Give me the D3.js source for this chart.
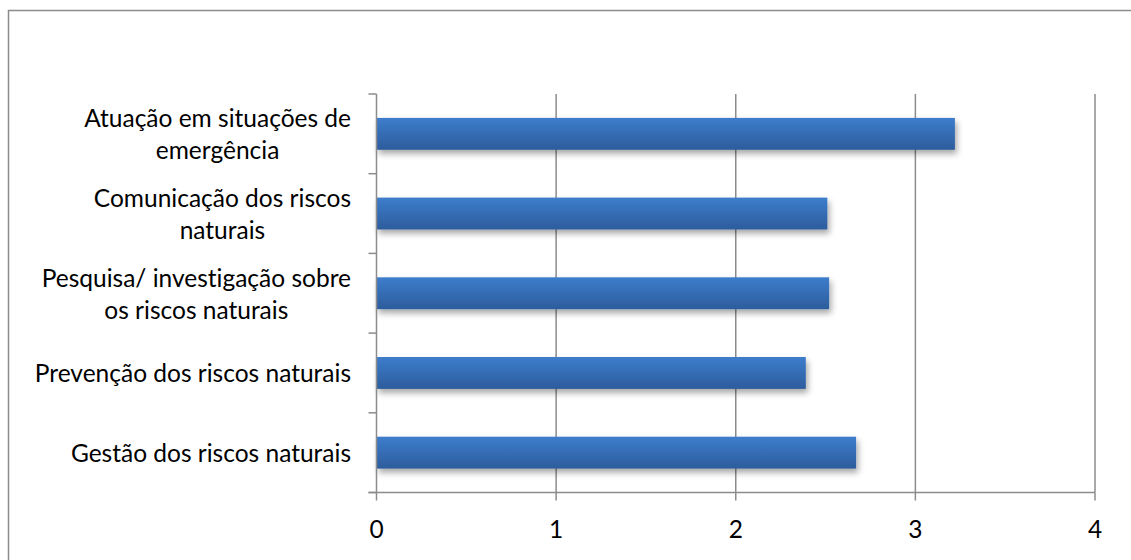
<!DOCTYPE html>
<html>
<head>
<meta charset="utf-8">
<script src="https://cdn.jsdelivr.net/npm/d3@7"></script>
<style>
  html, body { margin: 0; padding: 0; background: #fff; }
  svg { display: block; }
  text { font-family: Lato, "Open Sans", sans-serif; fill: #000; font-variant-ligatures: none; }
</style>
</head>
<body>
<svg id="chart" width="1131" height="560"></svg>
<script>
// Category labels (top to bottom), each split into its printed lines
const categories = [
  ["Atuação em situações de", "emergência"],
  ["Comunicação dos riscos", "naturais"],
  ["Pesquisa/ investigação sobre", "os riscos naturais"],
  ["Prevenção dos riscos naturais"],
  ["Gestão dos riscos naturais"]
];
const values = [3.22, 2.51, 2.52, 2.39, 2.67];
const xTicks = [0, 1, 2, 3, 4];

const svg = d3.select("#chart");
const plot = { left: 376.5, right: 1095, top: 94, bottom: 492.5 };
const fontSize = 24.5;

// Outer frame of the chart area
svg.append("rect")
  .attr("x", 8.5).attr("y", 10.5)
  .attr("width", 1140).attr("height", 600)
  .attr("fill", "#fff").attr("stroke", "#8c8c8c").attr("stroke-width", 1.5);

const x = d3.scaleLinear().domain([0, 4]).range([plot.left, plot.right]);
const y = d3.scaleBand()
  .domain(d3.range(categories.length))
  .range([plot.top, plot.bottom])
  .paddingInner(0.6).paddingOuter(0.3);

const defs = svg.append("defs");
const grad = defs.append("linearGradient")
  .attr("id", "barFill").attr("x1", 0).attr("y1", 0).attr("x2", 0).attr("y2", 1);
grad.append("stop").attr("offset", "0%").attr("stop-color", "#3d7dcc");
grad.append("stop").attr("offset", "100%").attr("stop-color", "#2d5c9c");

const shadow = defs.append("filter").attr("id", "barShadow")
  .attr("x", "-5%").attr("y", "-30%").attr("width", "115%").attr("height", "190%");
shadow.append("feDropShadow")
  .attr("dx", 2).attr("dy", 4).attr("stdDeviation", 3)
  .attr("flood-color", "#000").attr("flood-opacity", 0.35);

// Vertical gridlines
svg.append("g").selectAll("line")
  .data(xTicks.filter(t => t > 0))
  .join("line")
  .attr("x1", d => x(d)).attr("x2", d => x(d))
  .attr("y1", plot.top).attr("y2", plot.bottom)
  .attr("stroke", "#8c8c8c").attr("stroke-width", 1.5);

// Bars
svg.append("g").selectAll("rect")
  .data(values)
  .join("rect")
  .attr("x", x(0))
  .attr("y", (d, i) => y(i))
  .attr("width", d => x(d) - x(0))
  .attr("height", y.bandwidth())
  .attr("fill", "url(#barFill)")
  .attr("filter", "url(#barShadow)");

// Category axis with ticks at band boundaries
const yAxis = svg.append("g");
yAxis.append("line")
  .attr("x1", plot.left).attr("x2", plot.left)
  .attr("y1", plot.top).attr("y2", plot.bottom)
  .attr("stroke", "#8c8c8c").attr("stroke-width", 1.5);
yAxis.selectAll("line.tick")
  .data(d3.range(categories.length + 1))
  .join("line").attr("class", "tick")
  .attr("x1", plot.left - 8).attr("x2", plot.left)
  .attr("y1", i => plot.top + i * y.step())
  .attr("y2", i => plot.top + i * y.step())
  .attr("stroke", "#8c8c8c").attr("stroke-width", 1.5);

// Category labels: lines centred on each other, block right-aligned
const lineH = 32;
const labelRight = 351;
categories.forEach((lines, i) => {
  const cy = y(i) + y.bandwidth() / 2;
  const g = svg.append("g");
  const texts = lines.map((s, k) => g.append("text")
    .attr("font-size", fontSize)
    .attr("dominant-baseline", "central")
    .attr("y", cy + (k - (lines.length - 1) / 2) * lineH)
    .text(s));
  const maxW = d3.max(texts, t => t.node().getComputedTextLength());
  texts.forEach(t => t.attr("x", labelRight - maxW / 2).attr("text-anchor", "middle"));
});

// Value axis
const xAxis = svg.append("g");
xAxis.append("line")
  .attr("x1", plot.left - 8).attr("x2", plot.right)
  .attr("y1", plot.bottom).attr("y2", plot.bottom)
  .attr("stroke", "#8c8c8c").attr("stroke-width", 1.5);
xAxis.selectAll("line.tick")
  .data(xTicks)
  .join("line").attr("class", "tick")
  .attr("x1", d => x(d)).attr("x2", d => x(d))
  .attr("y1", plot.bottom).attr("y2", plot.bottom + 8)
  .attr("stroke", "#8c8c8c").attr("stroke-width", 1.5);
xAxis.selectAll("text")
  .data(xTicks)
  .join("text")
  .attr("x", d => x(d))
  .attr("y", 528)
  .attr("text-anchor", "middle")
  .attr("dominant-baseline", "central")
  .attr("font-size", fontSize)
  .text(d => d);
</script>
</body>
</html>
